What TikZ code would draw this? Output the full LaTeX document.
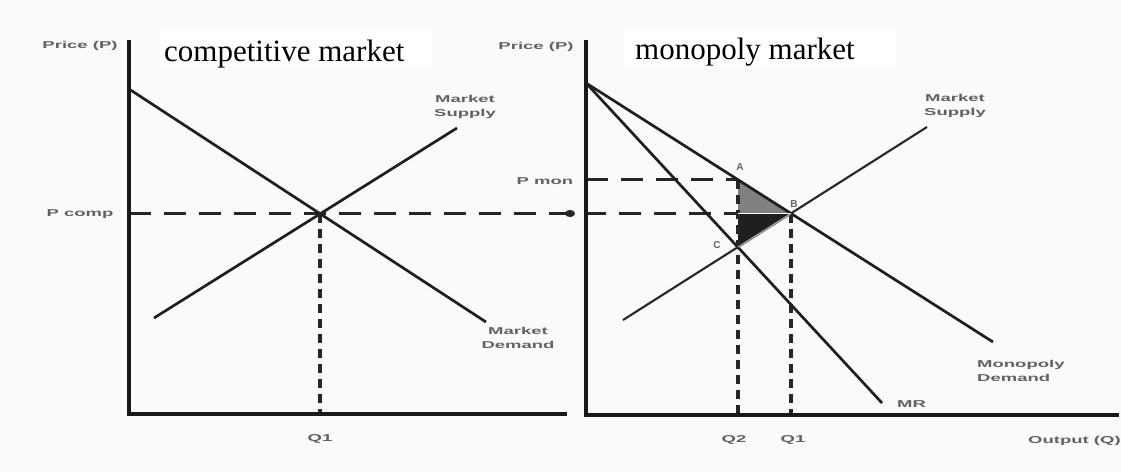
\documentclass[tikz,border=0pt]{standalone}
\usepackage{fontspec}
\setmainfont{Liberation Serif}
\setsansfont{Liberation Sans}
\newcommand\sx[1]{\scalebox{1.85}[1]{#1}}
\tikzset{
  axisline/.style={line width=3.2pt, line cap=rect, black!90},
  curve/.style={line width=2.7pt, black!88},
  thincurve/.style={line width=2.1pt, black!85},
  hdash/.style={line width=3.2pt, black!85, dash pattern=on 22pt off 13pt},
  vdash/.style={line width=4.5pt, black!85, dash pattern=on 9pt off 6pt},
  lab/.style={font=\sffamily\bfseries\fontsize{10}{14}\selectfont, text=black!62, inner sep=0pt, align=center},
  ptlab/.style={font=\sffamily\bfseries\fontsize{10}{12}\selectfont, text=black!62, inner sep=0pt},
  titletext/.style={font=\fontsize{31}{34}\selectfont, inner sep=0pt, anchor=base west},
}
\begin{document}
\begin{tikzpicture}[x=1pt,y=-1pt]
\useasboundingbox (0,0) rectangle (1121,472);
\fill[black!2] (0,0) rectangle (1121,472);
\fill[white] (160,30) rectangle (432,66);
\fill[white] (624,30) rectangle (896,66);

% ---------- coordinates: left panel ----------
\coordinate (LY) at (129,42);
\coordinate (LO) at (129,414);
\coordinate (LX) at (565,414);
\coordinate (LD1) at (129,89);
\coordinate (LD2) at (486,322);
\coordinate (LS1) at (154,318);
\coordinate (LS2) at (457,128);
\coordinate (E) at (320,213.5);
\coordinate (LQ) at (320,414);
\coordinate (PcL) at (129,213.5);

% ---------- coordinates: right panel ----------
\coordinate (RY) at (586,42);
\coordinate (RO) at (586,415);
\coordinate (RX) at (1117,415);
\coordinate (RD1) at (586,83);
\coordinate (RD2) at (993,342);
\coordinate (MR2) at (882,403);
\coordinate (RS1) at (623,320);
\coordinate (RS2) at (927,127);
\coordinate (A) at (738,179.7);
\coordinate (B) at (791,213.5);
\coordinate (C) at (738,247.1);
\coordinate (AB) at (738,213.5);
\coordinate (PmL) at (586,179.7);
\coordinate (Q2b) at (738,415);
\coordinate (Q1b) at (791,415);

% ---------- shaded triangles ----------
\fill[black!50] (A) -- (AB) -- (B) -- cycle;
\fill[black!88] (AB) -- (B) -- (C) -- cycle;

% ---------- dashed guides ----------
\draw[hdash] (PcL) -- (AB);
\draw[hdash] (PmL) -- (A);
\draw[vdash] (E) -- (LQ);
\draw[vdash] (A) -- (Q2b);
\draw[vdash] (B) -- (Q1b);
\fill[black!85] (570,213.5) ellipse (5 and 3.6);

% ---------- axes ----------
\draw[axisline] (LY) -- (LO) -- (LX);
\draw[axisline] (RY) -- (RO) -- (RX);

% ---------- curves ----------
\draw[curve] (LD1) -- (LD2);
\draw[curve] (LS1) -- (LS2);
\draw[curve] (RD1) -- (RD2);
\draw[curve] (RD1) -- (MR2);
\draw[thincurve] (RS1) -- (RS2);
\draw[line width=1.3pt, white] (AB) -- (B);
\draw[line width=1.3pt, black!35] (C) -- (B);

% ---------- titles ----------
\node[titletext] (t1) at (164,61) {competitive market};
\node[titletext] (t2) at (635,59) {monopoly market};

% ---------- labels ----------
\node[lab] (plabL) at (80,46) {\sx{Price (P)}};
\node[lab] (pcomp) at (80,214) {\sx{P comp}};
\node[lab] (msL) at (465,107) {\sx{Market}\\\sx{Supply}};
\node[lab] (mdL) at (518,338) {\sx{Market}\\\sx{Demand}};
\node[lab] (q1L) at (320,439) {\sx{Q1}};
\node[lab] (plabR) at (536,47) {\sx{Price (P)}};
\node[lab] (pmon) at (545,181) {\sx{P mon}};
\node[lab] (msR) at (955,106) {\sx{Market}\\\sx{Supply}};
\node[lab, align=left, anchor=west] (mdR) at (977,371) {\sx{Monopoly}\\\sx{Demand}};
\node[lab, anchor=west] (mr) at (897,404) {\sx{MR}};
\node[lab, anchor=west] (out) at (1028,441) {\sx{Output (Q)}};
\node[lab] (q2) at (734,440) {\sx{Q2}};
\node[lab] (q1R) at (793,440) {\sx{Q1}};
\node[ptlab] (la) at (740,167) {A};
\node[ptlab] (lb) at (794,204) {B};
\node[ptlab] (lc) at (717,245) {C};
\end{tikzpicture}
\end{document}
